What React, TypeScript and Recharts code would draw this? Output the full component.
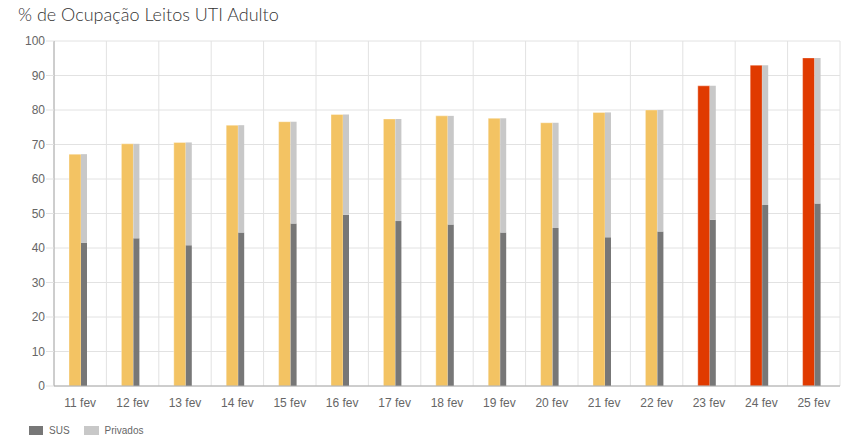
import { Bar, BarChart, CartesianGrid, Cell, XAxis, YAxis } from "recharts";

// % ocupação UTI adulto, leitos totais x SUS x privados
const days = [
  "11 fev", "12 fev", "13 fev", "14 fev", "15 fev", "16 fev", "17 fev", "18 fev",
  "19 fev", "20 fev", "21 fev", "22 fev", "23 fev", "24 fev", "25 fev",
];
const totalPct = [67.2, 70.2, 70.6, 75.6, 76.6, 78.7, 77.4, 78.3, 77.6, 76.3, 79.3, 80.0, 87.0, 93.0, 95.1];
const susPct = [41.5, 42.8, 40.8, 44.5, 47.1, 49.6, 47.8, 46.8, 44.5, 45.8, 43.1, 44.8, 48.2, 52.5, 52.9];
const yTicks = [0, 10, 20, 30, 40, 50, 60, 70, 80, 90, 100];
const bandEdges = days.map((_, i) => i).concat(days.length);

const ALERT_LEVEL = 85;
const YELLOW = "#F3C363";
const RED = "#E03A00";
const SUS_GREY = "#777777";
const PRIV_GREY = "#C8C8C8";
const GRID = "#E2E2E2";
const FONT = "Arial, 'Liberation Sans', Helvetica, sans-serif";

const data = days.map((day, i) => ({
  day,
  total: totalPct[i],
  sus: susPct[i],
  privados: +(totalPct[i] - susPct[i]).toFixed(1),
}));

export default function App() {
  return (
    <div style={{ position: "absolute", left: 0, top: 0, width: 864, height: 445, background: "#fff" }}>
      <div
        style={{
          position: "absolute",
          left: 18,
          top: 3,
          fontFamily: "Lato, sans-serif",
          fontWeight: 300,
          fontSize: 18,
          lineHeight: "22px",
          color: "#333",
        }}
      >
        % de Ocupação Leitos UTI Adulto
      </div>
      <BarChart
        width={864}
        height={445}
        data={data}
        barGap={0}
        margin={{ top: 41, right: 24, left: 0, bottom: 29 }}
      >
        <XAxis
          xAxisId="grid"
          type="number"
          dataKey={() => 0}
          domain={[0, days.length]}
          ticks={bandEdges}
          height={0}
          axisLine={false}
          tickSize={10}
          tickLine={{ stroke: GRID }}
          tickFormatter={() => ""}
        />
        <XAxis
          xAxisId="cat"
          dataKey="day"
          height={30}
          axisLine={{ stroke: "#AAAAAA" }}
          tickLine={false}
          tickSize={8}
          tickMargin={4}
          interval={0}
          tick={{ fontSize: 12, fill: "#666", fontFamily: FONT }}
        />
        <YAxis
          width={54}
          domain={[0, 100]}
          ticks={yTicks}
          interval={0}
          axisLine={{ stroke: "#AAAAAA" }}
          tickLine={{ stroke: GRID }}
          tickSize={8}
          tickMargin={1}
          tick={{ fontSize: 12, fill: "#666", fontFamily: FONT }}
        />
        <CartesianGrid xAxisId="grid" stroke={GRID} />
        <Bar xAxisId="cat" dataKey="total" stackId="a" barSize={12} isAnimationActive={false}>
          {data.map((d) => (
            <Cell
              key={d.day}
              fill={d.total >= ALERT_LEVEL ? RED : YELLOW}
              stroke="rgba(255,255,255,0.35)"
              strokeWidth={1}
            />
          ))}
        </Bar>
        <Bar xAxisId="cat" dataKey="sus" stackId="b" barSize={6} fill={SUS_GREY} isAnimationActive={false} />
        <Bar xAxisId="cat" dataKey="privados" stackId="b" barSize={6} fill={PRIV_GREY} isAnimationActive={false} />
        {/* empty slot so the group sits a bit left of the band centre, like the original */}
        <Bar xAxisId="cat" dataKey={() => 0} stackId="c" barSize={4} fill="none" legendType="none" isAnimationActive={false} />
      </BarChart>
      <div
        style={{
          position: "absolute",
          left: 29,
          top: 425,
          display: "flex",
          alignItems: "center",
          fontFamily: FONT,
          fontSize: 10,
          color: "#666",
        }}
      >
        <span style={{ display: "inline-block", width: 14, height: 9, background: SUS_GREY, marginRight: 6 }} />
        <span style={{ marginRight: 14 }}>SUS</span>
        <span style={{ display: "inline-block", width: 15, height: 9, background: PRIV_GREY, marginRight: 6 }} />
        <span>Privados</span>
      </div>
    </div>
  );
}
